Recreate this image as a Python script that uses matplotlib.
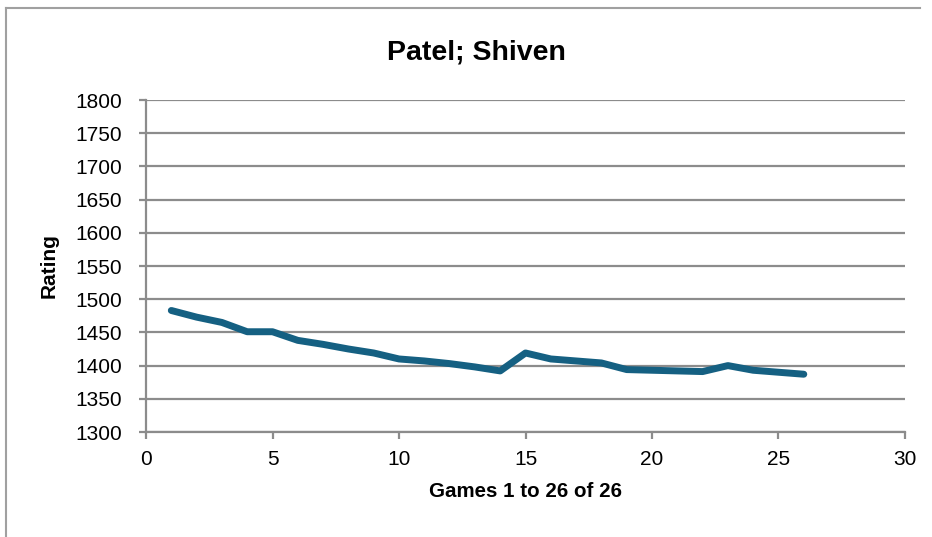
from matplotlib import pyplot as plt
from matplotlib.lines import Line2D

# Rating per game
games = list(range(1, 27))
ratings = [1483, 1473, 1465, 1451, 1451, 1438, 1432, 1425, 1419, 1410,
           1407, 1403, 1398, 1392, 1419, 1410, 1407, 1404, 1394, 1393,
           1392, 1391, 1400, 1393, 1390, 1387]
x_ticks = [0, 5, 10, 15, 20, 25, 30]
y_ticks = list(range(1300, 1801, 50))

plt.rcParams['font.family'] = ['Liberation Sans', 'DejaVu Sans']
grid_color = "#8c8c8c"

fig = plt.figure(figsize=(9.32, 5.37), dpi=100)
ax = fig.add_axes([146 / 932, 1 - 432 / 537, (905 - 146) / 932, (432 - 100) / 537])

ax.plot(games, ratings, color="#156082", linewidth=5, solid_capstyle="round",
        solid_joinstyle="round")

ax.set_xlim(0, 30)
ax.set_ylim(1300, 1800)
ax.set_xticks(x_ticks)
ax.set_yticks(y_ticks)
ax.grid(axis="y", color=grid_color, linewidth=1.6)
ax.set_axisbelow(True)
for side in ["top", "right"]:
    ax.spines[side].set_visible(False)
for side in ["left", "bottom"]:
    ax.spines[side].set_color(grid_color)
    ax.spines[side].set_linewidth(1.6)
ax.tick_params(colors=grid_color, labelcolor="black", labelsize=15,
               width=1.6, length=5)
ax.tick_params(axis="x", pad=8)
ax.tick_params(axis="y", pad=12)

# title sits centred on the chart area, a bit left of the plot centre
ax.set_title("Patel; Shiven", fontsize=20.5, fontweight="bold", pad=29,
             x=(476 - 146) / 759)
ax.set_xlabel("Games 1 to 26 of 26", fontsize=14.8, fontweight="bold", labelpad=9)
ax.set_ylabel("Rating", fontsize=15, fontweight="bold", labelpad=12)

# chart border (top and left edges visible)
fig.add_artist(Line2D([6 / 932, 920 / 932], [1 - 8 / 537, 1 - 8 / 537],
                      color="#a0a0a0", linewidth=1.5))
fig.add_artist(Line2D([6 / 932, 6 / 932], [1 - 8 / 537, 0],
                      color="#a0a0a0", linewidth=1.5))

plt.savefig("out.png", dpi=100)
plt.close()
